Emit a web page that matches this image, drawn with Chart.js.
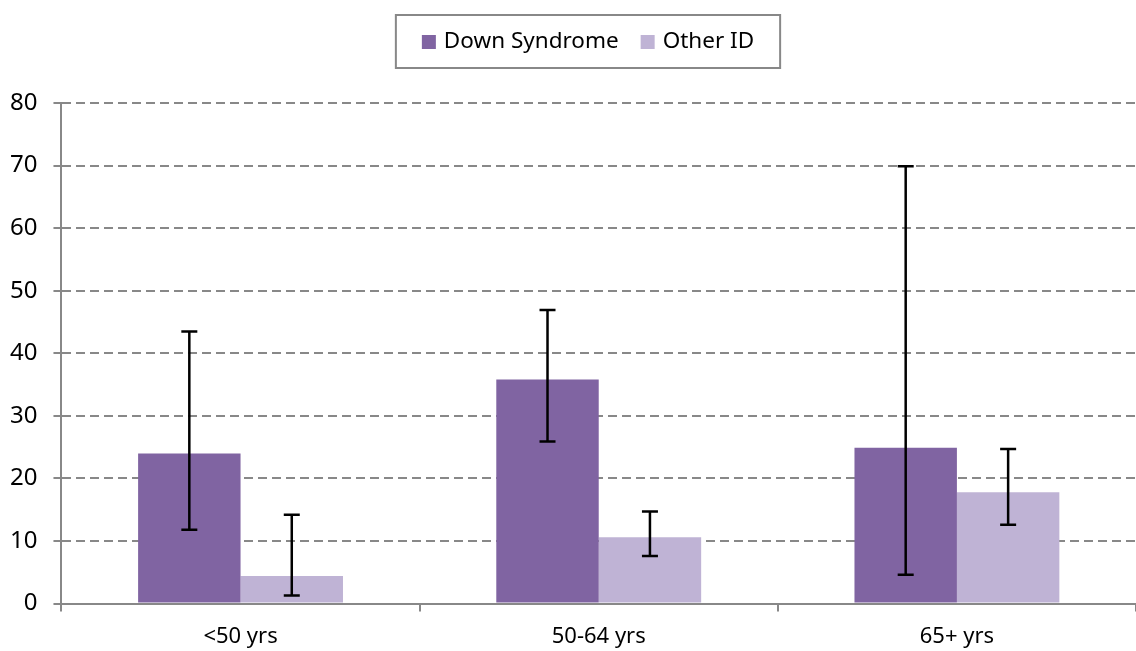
<!DOCTYPE html>
<html>
<head>
<meta charset="utf-8">
<script src="https://cdn.jsdelivr.net/npm/chart.js@4/dist/chart.umd.min.js"></script>
<style>
  html, body { margin: 0; padding: 0; background: #fff; }
  #wrap { width: 1136px; height: 651px; }
</style>
</head>
<body>
<div id="wrap"><canvas id="ageChart"></canvas></div>
<script>
// Chart data
const ageGroups = ['<50 yrs', '50-64 yrs', '65+ yrs'];
const downSyndrome = [24.0, 35.8, 24.9];
const downLow = [11.8, 25.9, 4.6];
const downHigh = [43.5, 46.9, 69.9];
const otherId = [4.4, 10.6, 17.8];
const otherLow = [1.3, 7.6, 12.6];
const otherHigh = [14.2, 14.7, 24.7];
const yTicks = [0, 10, 20, 30, 40, 50, 60, 70, 80];

const errorRanges = [
    { low: downLow, high: downHigh },
    { low: otherLow, high: otherHigh }
];

// Draws the error bars on top of each bar
const errorBarPlugin = {
    id: 'errorBars',
    afterDatasetsDraw(chart) {
        const ctx = chart.ctx;
        const yScale = chart.scales.y;
        ctx.save();
        ctx.strokeStyle = '#000';
        ctx.lineWidth = 2.5;
        errorRanges.forEach((range, di) => {
            const meta = chart.getDatasetMeta(di);
            meta.data.forEach((bar, i) => {
                const x = bar.x;
                const yLow = yScale.getPixelForValue(range.low[i]);
                const yHigh = yScale.getPixelForValue(range.high[i]);
                ctx.beginPath();
                ctx.moveTo(x, yLow);
                ctx.lineTo(x, yHigh);
                ctx.moveTo(x - 8, yLow);
                ctx.lineTo(x + 8, yLow);
                ctx.moveTo(x - 8, yHigh);
                ctx.lineTo(x + 8, yHigh);
                ctx.stroke();
            });
        });
        ctx.restore();
    }
};

// Boxed legend, drawn from the dataset labels and colours
const boxedLegendPlugin = {
    id: 'boxedLegend',
    afterDraw(chart) {
        const ctx = chart.ctx;
        const sets = chart.data.datasets;
        ctx.save();
        ctx.font = '22.5px "Noto Sans"';
        ctx.textBaseline = 'middle';
        const sq = 14, gapText = 8, gapItem = 22, pad = 26;
        const widths = sets.map(ds => ctx.measureText(ds.label).width);
        let total = pad * 2;
        widths.forEach((w, i) => { total += sq + gapText + w + (i > 0 ? gapItem : 0); });
        const centerX = 588, top = 15, bottom = 68, midY = 42;
        let x = centerX - total / 2;
        ctx.strokeStyle = '#888';
        ctx.lineWidth = 2;
        ctx.strokeRect(x, top, total, bottom - top);
        x += pad;
        sets.forEach((ds, i) => {
            if (i > 0) x += gapItem;
            ctx.fillStyle = ds.backgroundColor;
            ctx.fillRect(x, midY - sq / 2, sq, sq);
            x += sq + gapText;
            ctx.fillStyle = '#000';
            ctx.fillText(ds.label, x, midY);
            x += widths[i];
        });
        ctx.restore();
    }
};

const ctx = document.getElementById('ageChart').getContext('2d');
const ageChart = new Chart(ctx, {
    type: 'bar',
    data: {
        labels: ageGroups,
        datasets: [{
            label: 'Down Syndrome',
            data: downSyndrome,
            backgroundColor: '#8064A2',
            borderWidth: 0
        }, {
            label: 'Other ID',
            data: otherId,
            backgroundColor: '#BFB3D5',
            borderWidth: 0
        }]
    },
    options: {
        responsive: true,
        maintainAspectRatio: false,
        animation: false,
        layout: {
            padding: { top: 103, right: 0, left: -6, bottom: -11 }
        },
        datasets: {
            bar: {
                categoryPercentage: 0.572,
                barPercentage: 1.0
            }
        },
        plugins: {
            legend: { display: false },
            tooltip: { enabled: false }
        },
        scales: {
            x: {
                offset: true,
                grid: {
                    offset: true,
                    drawOnChartArea: false,
                    drawTicks: true,
                    tickLength: 8,
                    color: '#888',
                    lineWidth: 2
                },
                border: { color: '#888', width: 2 },
                ticks: {
                    color: '#000',
                    padding: 12,
                    font: { family: 'Noto Sans', size: 22 }
                }
            },
            y: {
                min: 0,
                max: 80,
                afterBuildTicks(axis) {
                    axis.ticks = yTicks.map(v => ({ value: v }));
                },
                grid: {
                    color: '#888',
                    lineWidth: 2,
                    tickLength: 8,
                    tickBorderDash: []
                },
                border: { display: true, color: '#888', width: 2, dash: [9, 5] },
                ticks: {
                    color: '#000',
                    padding: 16,
                    font: { family: 'Noto Sans', size: 24 }
                }
            }
        }
    },
    plugins: [errorBarPlugin, boxedLegendPlugin]
});
</script>
</body>
</html>
